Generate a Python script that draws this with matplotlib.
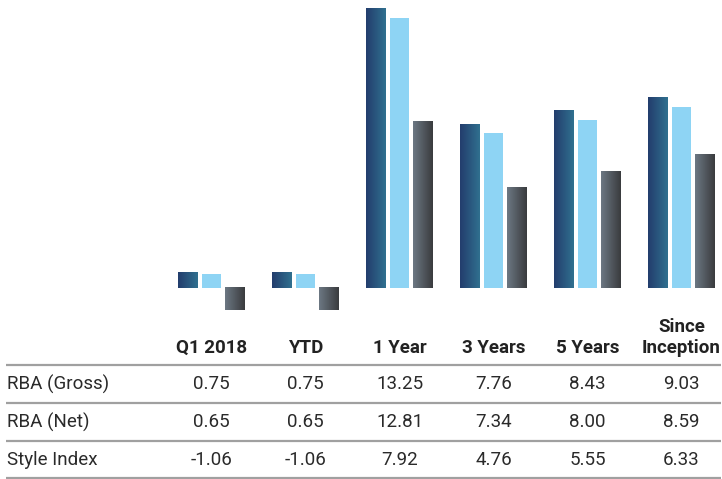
import numpy as np
import matplotlib
matplotlib.use("Agg")
import matplotlib.pyplot as plt
from matplotlib.colors import LinearSegmentedColormap

# data
periods = ["Q1 2018", "YTD", "1 Year", "3 Years", "5 Years", "Since\nInception"]
series = ["RBA (Gross)", "RBA (Net)", "Style Index"]
gross = [0.75, 0.75, 13.25, 7.76, 8.43, 9.03]
net = [0.65, 0.65, 12.81, 7.34, 8.00, 8.59]
style_idx = [-1.06, -1.06, 7.92, 4.76, 5.55, 6.33]

W, H = 722, 479
fig = plt.figure(figsize=(W / 100, H / 100), dpi=100)
plt.rcParams['font.family'] = ['Roboto', 'DejaVu Sans']

# bar area: pixels 0..320 from top, zero line at 288, 21.06 px per unit
px_per_unit = 21.06
ax = fig.add_axes([0, (H - 320) / H, 1, 320 / H])
ax.axis("off")

cmap_gross = LinearSegmentedColormap.from_list("g", ["#233d6d", "#30708f"])
cmap_style = LinearSegmentedColormap.from_list("s", ["#6c7883", "#3a3b3e"])
grad = np.linspace(0, 1, 64).reshape(1, -1)

x = np.arange(len(periods))
bw = 20 / 94
off = 23.5 / 94


def grad_bars(xs, vals, cmap):
    for xc, v in zip(xs, vals):
        x0, x1 = xc - bw / 2, xc + bw / 2
        y0, y1 = min(0, v), max(0, v)
        ax.imshow(grad, cmap=cmap, extent=[x0, x1, y0, y1], aspect="auto",
                  interpolation="bilinear", zorder=2)


grad_bars(x - off, gross, cmap_gross)
ax.bar(x, net, width=bw * 0.95, color="#8ed4f4", zorder=2)
grad_bars(x + off, style_idx, cmap_style)
ax.set_xlim(-211.5 / 94, (W - 211.5) / 94)
ax.set_ylim(-(320 - 288) / px_per_unit, 288 / px_per_unit)

# table area in pixel coordinates
tx = fig.add_axes([0, 0, 1, 1])
tx.set_xlim(0, W)
tx.set_ylim(H, 0)
tx.axis("off")

col_x = [211.5 + 94 * i for i in range(len(periods))]
for cx, p in zip(col_x, periods):
    tx.text(cx, 357, p, ha="center", va="bottom", fontsize=13.5,
            fontweight="bold", color="#222222", linespacing=1.25)

for ly in [365, 403, 441, 477.5]:
    tx.plot([6, 721], [ly, ly], color="#a0a0a0", lw=1.6, solid_capstyle="butt")

rows = [gross, net, style_idx]
row_y = [384, 422, 460]
for ry, name, vals in zip(row_y, series, rows):
    tx.text(7, ry, name, ha="left", va="center", fontsize=13.5, color="#2a2a2a")
    for cx, v in zip(col_x, vals):
        tx.text(cx, ry, f"{v:.2f}", ha="center", va="center", fontsize=13.5,
                color="#2a2a2a")

fig.savefig("out.png", dpi=100)
